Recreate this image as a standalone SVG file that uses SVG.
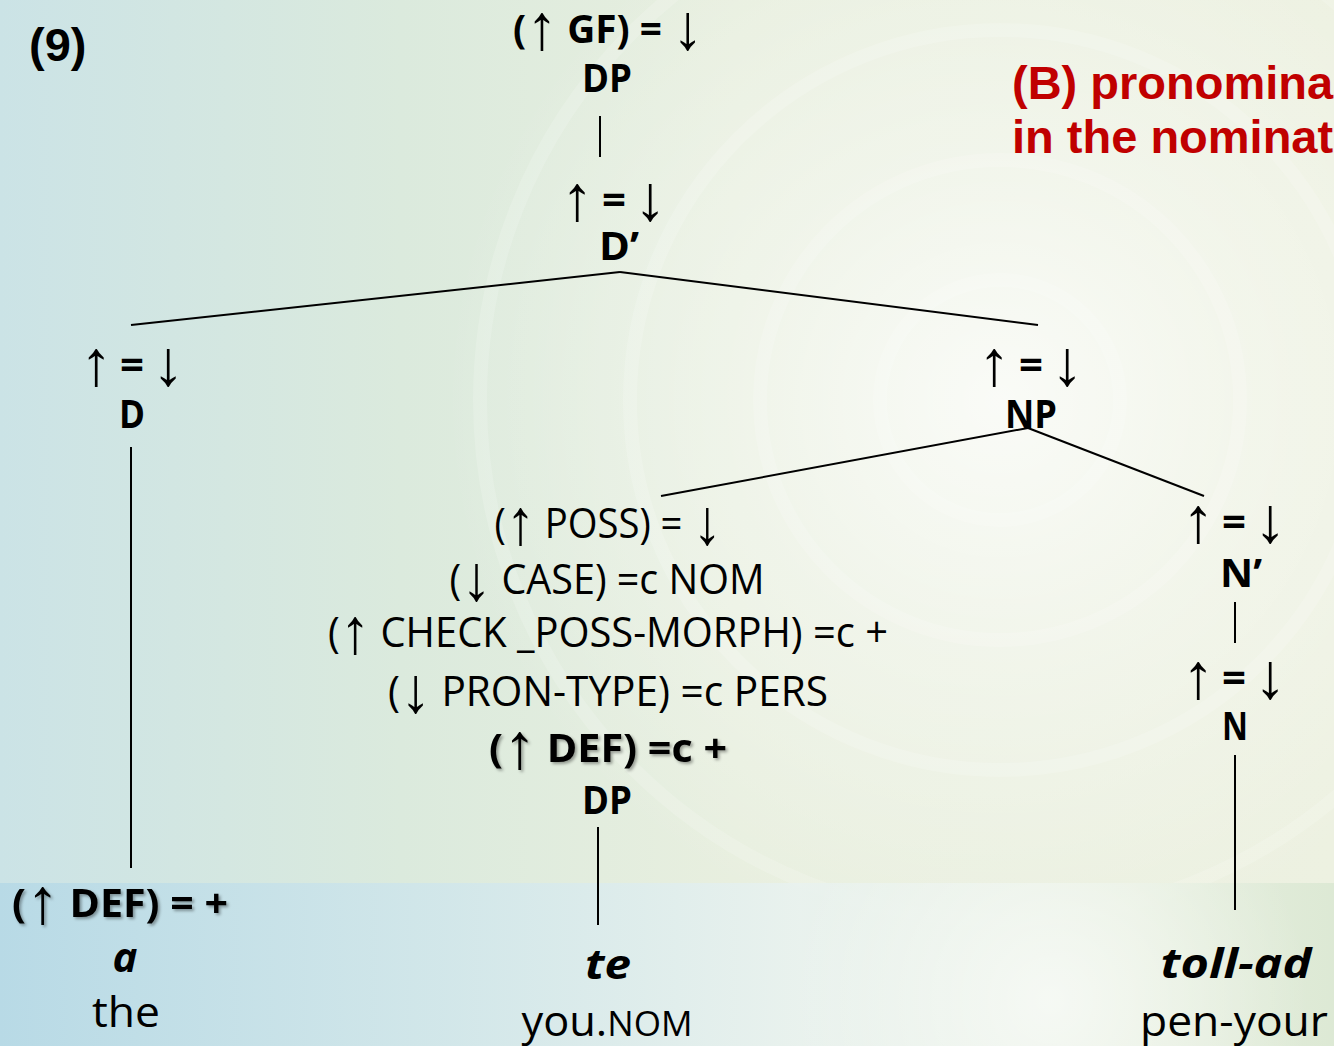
<svg xmlns="http://www.w3.org/2000/svg" width="1334" height="1046" viewBox="0 0 1334 1046">
  <defs>
    <linearGradient id="bgBase" x1="0" y1="0" x2="1" y2="0">
      <stop offset="0" stop-color="#cbe3e6"/>
      <stop offset="0.3" stop-color="#dbeadd"/>
      <stop offset="0.55" stop-color="#e8efdf"/>
      <stop offset="1" stop-color="#edf1e1"/>
    </linearGradient>
    <radialGradient id="glow" cx="1000" cy="400" r="560" gradientUnits="userSpaceOnUse">
      <stop offset="0" stop-color="#ffffff" stop-opacity="0.75"/>
      <stop offset="0.45" stop-color="#ffffff" stop-opacity="0.35"/>
      <stop offset="1" stop-color="#ffffff" stop-opacity="0"/>
    </radialGradient>
    <linearGradient id="band" x1="0" y1="0" x2="1" y2="0">
      <stop offset="0" stop-color="#b6d9e6"/>
      <stop offset="0.35" stop-color="#d2e7eb"/>
      <stop offset="0.6" stop-color="#e9f2ef"/>
      <stop offset="0.85" stop-color="#e6efe0"/>
      <stop offset="1" stop-color="#dbe8d3"/>
    </linearGradient>
    <radialGradient id="bandGlow" cx="1050" cy="1000" r="260" gradientUnits="userSpaceOnUse">
      <stop offset="0" stop-color="#ffffff" stop-opacity="0.6"/>
      <stop offset="1" stop-color="#ffffff" stop-opacity="0"/>
    </radialGradient>
    <filter id="shadow" x="-10%" y="-30%" width="120%" height="160%">
      <feGaussianBlur in="SourceAlpha" stdDeviation="1.6"/>
      <feOffset dx="2" dy="2" result="b"/>
      <feFlood flood-color="#000" flood-opacity="0.35"/>
      <feComposite in2="b" operator="in"/>
      <feMerge><feMergeNode/><feMergeNode in="SourceGraphic"/></feMerge>
    </filter>
    <style>
      .t { font-family: "Open Sans", "DejaVu Sans", sans-serif; fill: #000; text-anchor: middle; }
      .b { font-weight: bold; }
      .i { font-style: italic; font-weight: bold; }
      .ar { font-family: "Liberation Sans", Arial, sans-serif; font-weight: normal; font-size: 64px; }
      .eqs { font-weight: bold; font-size: 42px; }
      .ann { font-size: 40px; }
      .cat { font-size: 40px; font-weight: bold; }
      .word { font-size: 42px; }
      .title { font-family: "Liberation Sans", Arial, sans-serif; font-weight: bold; }
      .edge { stroke: #000; stroke-width: 2; fill: none; }
    </style>
  </defs>

  <!-- background -->
  <rect x="0" y="0" width="1334" height="1046" fill="url(#bgBase)"/>
  <rect x="0" y="0" width="1334" height="1046" fill="url(#glow)"/>
  <g fill="none" stroke="#ffffff" stroke-opacity="0.16" stroke-width="14">
    <circle cx="1000" cy="400" r="120"/>
    <circle cx="1000" cy="400" r="240"/>
    <circle cx="1000" cy="400" r="370"/>
    <circle cx="1000" cy="400" r="520"/>
  </g>
  <rect x="0" y="883" width="1334" height="163" fill="url(#band)" opacity="0.9"/>
  <rect x="0" y="883" width="1334" height="163" fill="url(#bandGlow)"/>

  <!-- headings -->
  <text class="title" x="29" y="61" font-size="47" fill="#000">(9)</text>
  <g id="heading" class="title" font-size="47" fill="#c00000">
    <text x="1012" y="99">(B) pronominal</text>
    <text x="1012" y="153">in the nominative</text>
  </g>

  <!-- connectors -->
  <g id="connectors" class="edge">
    <line x1="600" y1="116" x2="600" y2="157"/>
    <line x1="620" y1="272" x2="131" y2="325"/>
    <line x1="620" y1="272" x2="1038" y2="325"/>
    <line x1="131" y1="447" x2="131" y2="868"/>
    <line x1="1028" y1="428" x2="661" y2="496"/>
    <line x1="1028" y1="428" x2="1204" y2="496"/>
    <line x1="598" y1="827" x2="598" y2="925"/>
    <line x1="1235" y1="602" x2="1235" y2="643"/>
    <line x1="1235" y1="755" x2="1235" y2="910"/>
  </g>

  <!-- DP (root) -->
  <g id="node-dp-root" class="t">
    <text class="ann b" x="608" y="43" textLength="190" lengthAdjust="spacingAndGlyphs">(<tspan class="ar" dy="6">↑</tspan><tspan dy="-6"> GF) = </tspan><tspan class="ar" dy="6">↓</tspan></text>
    <text class="cat" x="607" y="92" textLength="50" lengthAdjust="spacingAndGlyphs">DP</text>
  </g>

  <!-- D' -->
  <g id="node-dbar" class="t">
    <text><tspan class="ar" x="577" y="220">↑</tspan><tspan class="eqs" x="614" y="214">=</tspan><tspan class="ar" x="650" y="220">↓</tspan></text>
    <text class="cat" x="619" y="260" textLength="40" lengthAdjust="spacingAndGlyphs">D’</text>
  </g>

  <!-- D -->
  <g id="node-d" class="t">
    <text><tspan class="ar" x="96" y="385">↑</tspan><tspan class="eqs" x="132" y="379">=</tspan><tspan class="ar" x="168" y="385">↓</tspan></text>
    <text class="cat" x="132" y="428" textLength="26" lengthAdjust="spacingAndGlyphs">D</text>
  </g>

  <!-- NP -->
  <g id="node-np" class="t">
    <text><tspan class="ar" x="994" y="385">↑</tspan><tspan class="eqs" x="1031" y="379">=</tspan><tspan class="ar" x="1067" y="385">↓</tspan></text>
    <text class="cat" x="1031" y="428" textLength="52" lengthAdjust="spacingAndGlyphs">NP</text>
  </g>

  <!-- possessor DP -->
  <g id="node-poss-dp" class="t">
    <text class="word" x="608" y="538" textLength="227" lengthAdjust="spacingAndGlyphs">(<tspan class="ar" dy="6">↑</tspan><tspan dy="-6"> POSS) = </tspan><tspan class="ar" dy="6">↓</tspan></text>
    <text class="word" x="607" y="594" textLength="315" lengthAdjust="spacingAndGlyphs">(<tspan class="ar" dy="6">↓</tspan><tspan dy="-6"> CASE) =c NOM</tspan></text>
    <text class="word" x="608" y="647" textLength="560" lengthAdjust="spacingAndGlyphs">(<tspan class="ar" dy="6">↑</tspan><tspan dy="-6"> CHECK _POSS-MORPH) =c +</tspan></text>
    <text class="word" x="608" y="706" textLength="440" lengthAdjust="spacingAndGlyphs">(<tspan class="ar" dy="6">↓</tspan><tspan dy="-6"> PRON-TYPE) =c PERS</tspan></text>
    <text class="ann b" x="608" y="762" textLength="238" lengthAdjust="spacingAndGlyphs" filter="url(#shadow)">(<tspan class="ar" dy="6">↑</tspan><tspan dy="-6"> DEF) =c +</tspan></text>
    <text class="cat" x="607" y="814" textLength="50" lengthAdjust="spacingAndGlyphs">DP</text>
  </g>

  <!-- N' -->
  <g id="node-nbar" class="t">
    <text><tspan class="ar" x="1198" y="542">↑</tspan><tspan class="eqs" x="1234" y="536">=</tspan><tspan class="ar" x="1270" y="542">↓</tspan></text>
    <text class="cat" x="1241" y="587" textLength="42" lengthAdjust="spacingAndGlyphs">N’</text>
  </g>

  <!-- N -->
  <g id="node-n" class="t">
    <text><tspan class="ar" x="1198" y="698">↑</tspan><tspan class="eqs" x="1234" y="692">=</tspan><tspan class="ar" x="1270" y="698">↓</tspan></text>
    <text class="cat" x="1235" y="740" textLength="26" lengthAdjust="spacingAndGlyphs">N</text>
  </g>

  <!-- leaf: a -->
  <g id="leaf-a" class="t">
    <text class="ann b" x="120" y="917" textLength="216" lengthAdjust="spacingAndGlyphs" filter="url(#shadow)">(<tspan class="ar" dy="6">↑</tspan><tspan dy="-6"> DEF) = +</tspan></text>
    <text class="word i" x="125" y="972">a</text>
    <text class="word" x="126" y="1027" textLength="68" lengthAdjust="spacingAndGlyphs">the</text>
  </g>

  <!-- leaf: te -->
  <g id="leaf-te" class="t">
    <text class="word i" x="608" y="979" textLength="46" lengthAdjust="spacingAndGlyphs">te</text>
    <text class="word" x="607" y="1036" textLength="171" lengthAdjust="spacingAndGlyphs">you.<tspan font-size="34">NOM</tspan></text>
  </g>

  <!-- leaf: toll-ad -->
  <g id="leaf-tollad" class="t">
    <text class="word i" x="1236" y="978" textLength="151" lengthAdjust="spacingAndGlyphs">toll-ad</text>
    <text class="word" x="1234" y="1036" textLength="188" lengthAdjust="spacingAndGlyphs">pen-your</text>
  </g>
</svg>
